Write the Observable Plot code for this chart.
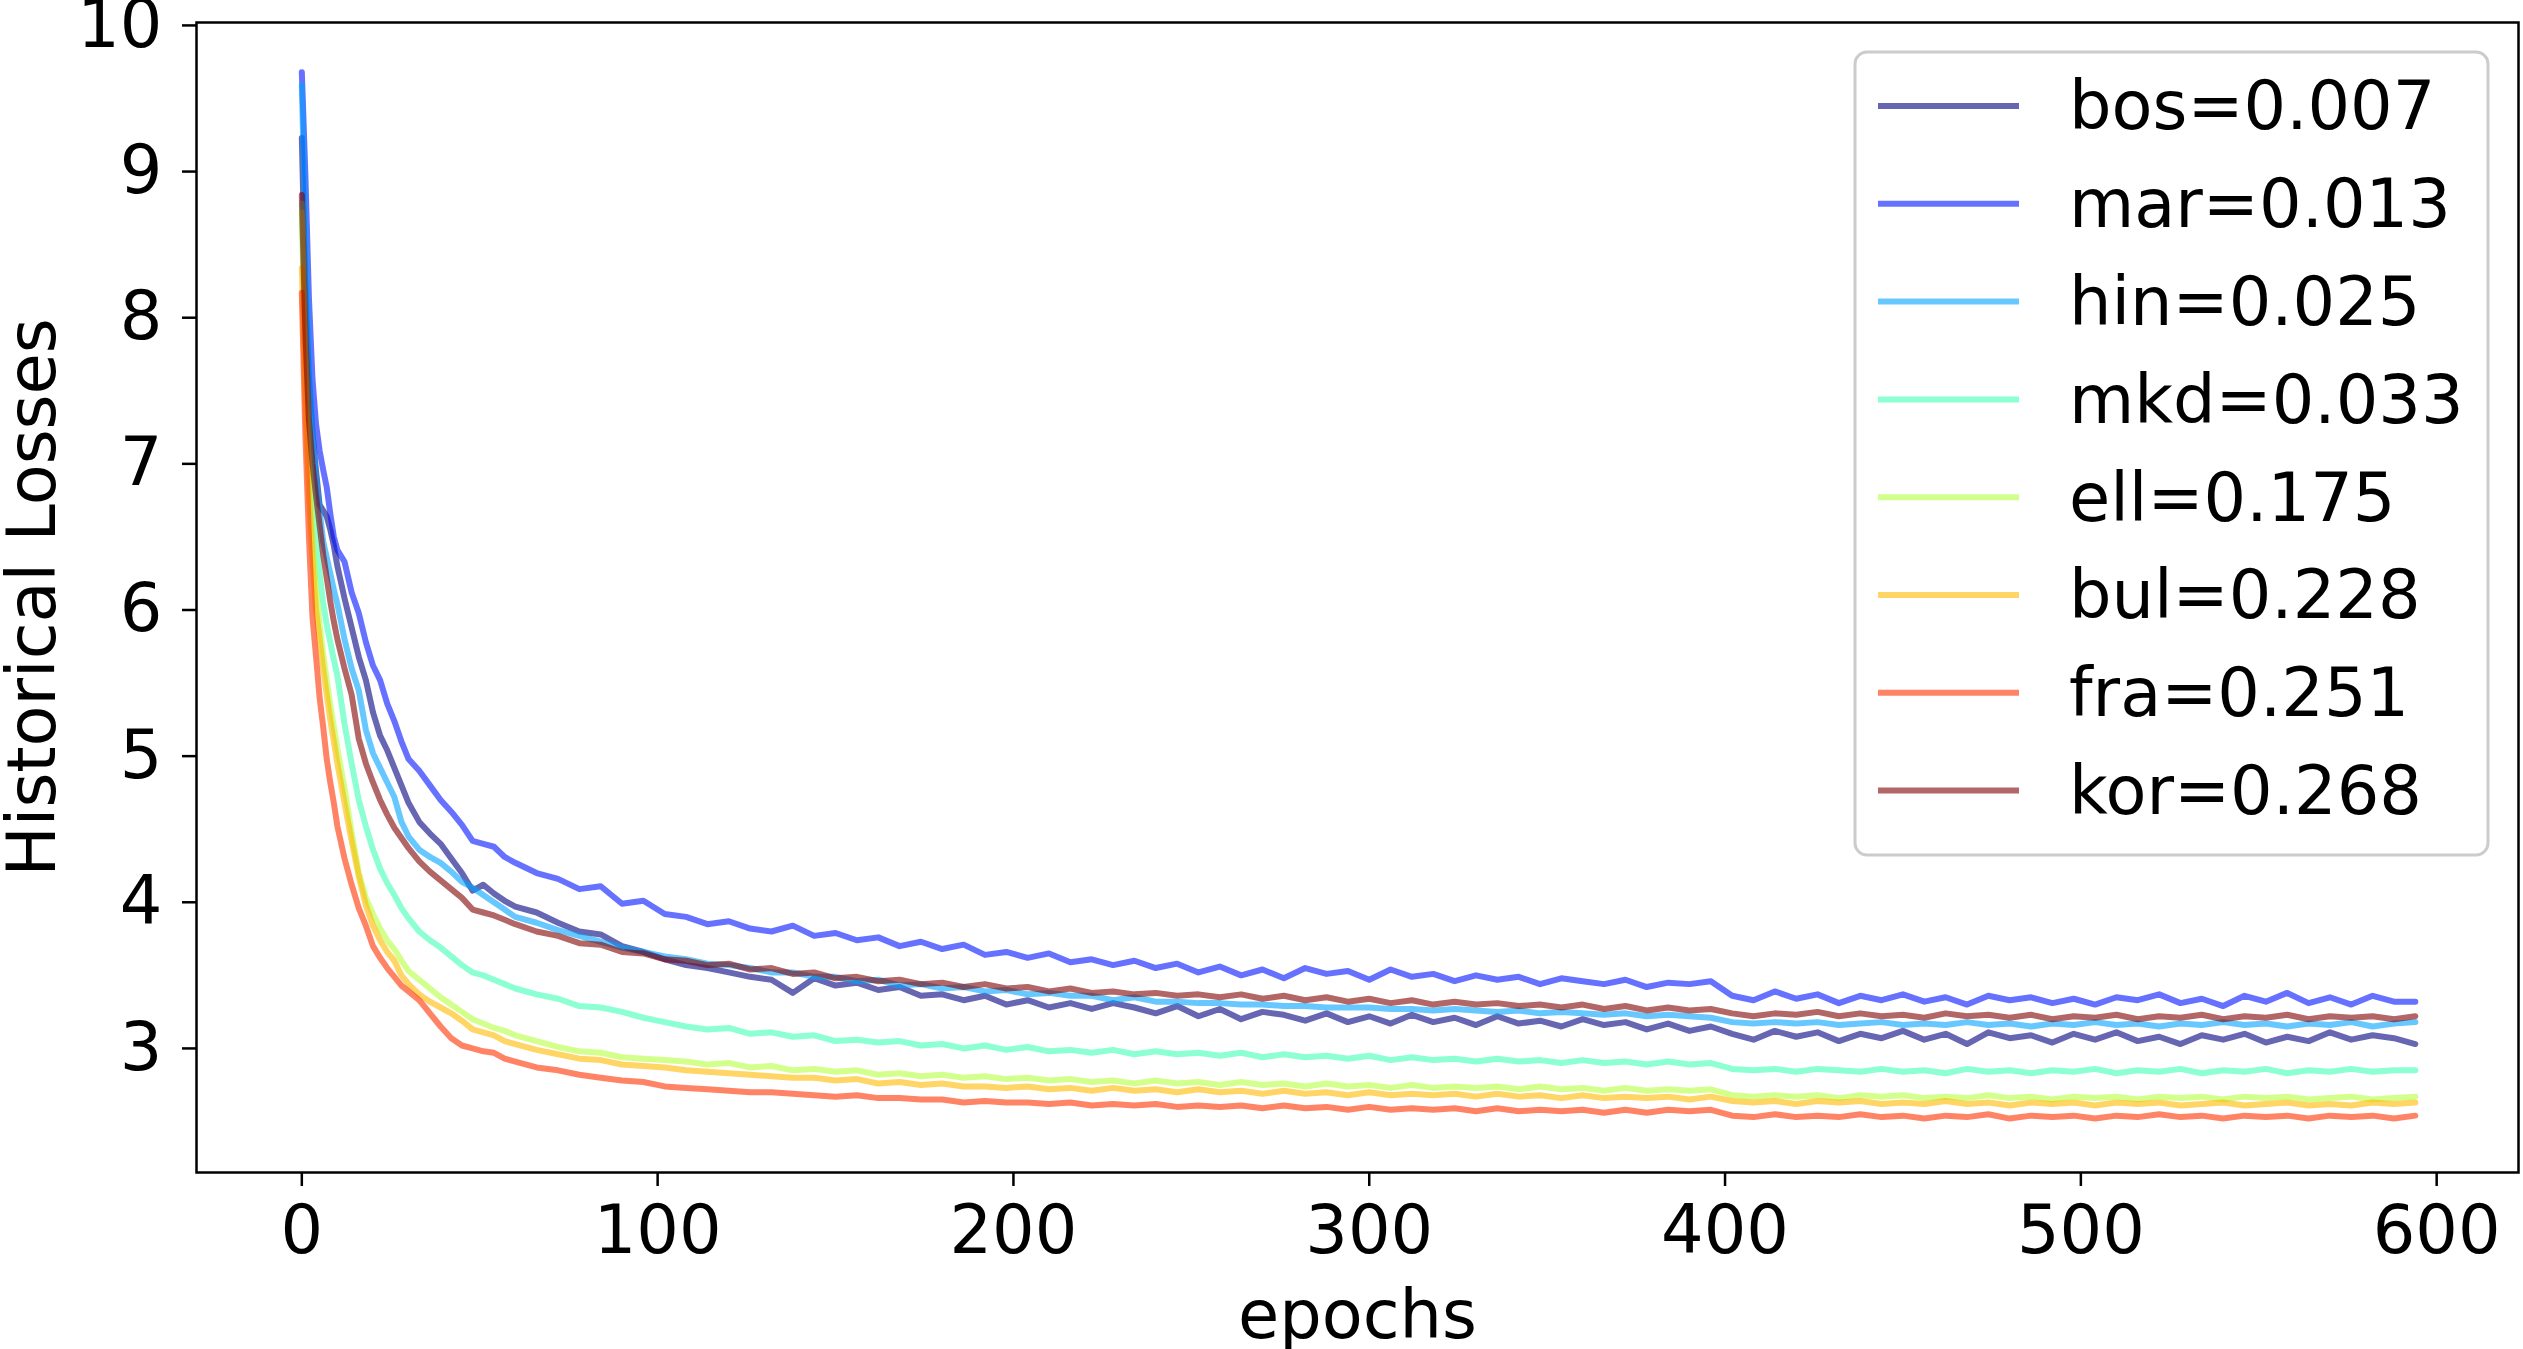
<!DOCTYPE html>
<html>
<head>
<meta charset="utf-8">
<script src="https://cdn.jsdelivr.net/npm/d3@7"></script>
<script src="https://cdn.jsdelivr.net/npm/@observablehq/plot@0.6"></script>
<style>
  html, body { margin: 0; padding: 0; background: #ffffff; }
  #chart { width: 2523px; height: 1349px; }
</style>
</head>
<body>
<div id="chart"></div>
<script>
// Training epochs at which the loss was recorded
const epochs = [
  0, 1, 2, 3, 4, 5, 6, 7, 8, 9, 10, 12, 14, 16, 18, 20, 22, 24, 26, 28, 30,
  33, 36, 39, 42, 45, 48, 51, 54, 57, 60,
  66, 72, 78, 84, 90, 96, 102, 108, 114, 120,
  126, 132, 138, 144, 150, 156, 162, 168, 174, 180,
  186, 192, 198, 204, 210, 216, 222, 228, 234, 240,
  246, 252, 258, 264, 270, 276, 282, 288, 294, 300,
  306, 312, 318, 324, 330, 336, 342, 348, 354, 360,
  366, 372, 378, 384, 390, 396, 402, 408, 414, 420,
  426, 432, 438, 444, 450, 456, 462, 468, 474, 480,
  486, 492, 498, 504, 510, 516, 522, 528, 534, 540,
  546, 552, 558, 564, 570, 576, 582, 588, 594
];

// Language codes and their scores shown in the legend
const series = ["bos", "mar", "hin", "mkd", "ell", "bul", "fra", "kor"];
const scores = [0.007, 0.013, 0.025, 0.033, 0.175, 0.228, 0.251, 0.268];

// Historical loss per language
const bos = [
  9.23, 8.20, 7.60, 7.20, 6.95, 6.72, 6.68, 6.64, 6.55, 6.44, 6.30, 6.08, 5.88, 5.68, 5.52, 5.30, 5.14, 5.04, 4.92, 4.80, 4.68,
  4.55, 4.47, 4.40, 4.30, 4.20, 4.08, 4.12, 4.06, 4.01, 3.97,
  3.93, 3.86, 3.80, 3.78, 3.70, 3.66, 3.61, 3.57, 3.55, 3.52,
  3.49, 3.47, 3.38, 3.48, 3.43, 3.45, 3.40, 3.42, 3.36, 3.37,
  3.33, 3.36, 3.30, 3.33, 3.28, 3.31, 3.27, 3.31, 3.28, 3.24,
  3.29, 3.22, 3.27, 3.20, 3.25, 3.23, 3.19, 3.24, 3.18, 3.22,
  3.17, 3.23, 3.18, 3.21, 3.16, 3.22, 3.17, 3.19, 3.15, 3.20,
  3.16, 3.18, 3.13, 3.17, 3.12, 3.15, 3.10, 3.06, 3.12, 3.08,
  3.11, 3.05, 3.10, 3.07, 3.12, 3.06, 3.10, 3.03, 3.11, 3.07,
  3.09, 3.04, 3.10, 3.06, 3.11, 3.05, 3.08, 3.03, 3.09, 3.06,
  3.10, 3.04, 3.08, 3.05, 3.11, 3.06, 3.09, 3.07, 3.03
];
const mar = [
  9.68, 8.98, 8.13, 7.58, 7.27, 7.09, 6.96, 6.84, 6.66, 6.50, 6.41, 6.33, 6.12, 5.98, 5.78, 5.62, 5.52, 5.36, 5.24, 5.10, 4.98,
  4.90, 4.80, 4.70, 4.62, 4.53, 4.42, 4.40, 4.38, 4.31, 4.27,
  4.20, 4.16, 4.09, 4.11, 3.99, 4.01, 3.92, 3.90, 3.85, 3.87,
  3.82, 3.80, 3.84, 3.77, 3.79, 3.74, 3.76, 3.70, 3.73, 3.68,
  3.71, 3.64, 3.66, 3.62, 3.65, 3.59, 3.61, 3.57, 3.60, 3.55,
  3.58, 3.52, 3.56, 3.50, 3.54, 3.48, 3.55, 3.51, 3.53, 3.47,
  3.54, 3.49, 3.51, 3.46, 3.50, 3.47, 3.49, 3.44, 3.48, 3.46,
  3.44, 3.47, 3.42, 3.45, 3.44, 3.46, 3.36, 3.33, 3.39, 3.34,
  3.37, 3.31, 3.36, 3.33, 3.37, 3.32, 3.35, 3.30, 3.36, 3.33,
  3.35, 3.31, 3.34, 3.30, 3.35, 3.33, 3.37, 3.31, 3.34, 3.29,
  3.36, 3.32, 3.38, 3.31, 3.35, 3.30, 3.36, 3.32, 3.32
];
const hin = [
  9.59, 8.60, 7.70, 7.20, 6.90, 6.68, 6.47, 6.36, 6.25, 6.14, 6.04, 5.80, 5.60, 5.45, 5.18, 5.02, 4.92, 4.82, 4.72, 4.55, 4.45,
  4.36, 4.31, 4.27, 4.21, 4.14, 4.10, 4.05, 4.00, 3.95, 3.90,
  3.86, 3.81, 3.77, 3.73, 3.69, 3.66, 3.63, 3.61, 3.58, 3.57,
  3.55, 3.52, 3.52, 3.49, 3.49, 3.46, 3.47, 3.43, 3.44, 3.41,
  3.42, 3.39, 3.40, 3.37, 3.38, 3.36, 3.36, 3.33, 3.35, 3.32,
  3.32, 3.31, 3.31, 3.30, 3.30, 3.29, 3.29, 3.28, 3.28, 3.28,
  3.27, 3.27, 3.26, 3.27, 3.26, 3.25, 3.26, 3.24, 3.25, 3.24,
  3.23, 3.24, 3.22, 3.23, 3.22, 3.21, 3.18, 3.17, 3.18, 3.17,
  3.18, 3.16, 3.17, 3.18, 3.16, 3.17, 3.16, 3.18, 3.16, 3.17,
  3.15, 3.17, 3.16, 3.18, 3.16, 3.17, 3.15, 3.17, 3.16, 3.18,
  3.16, 3.17, 3.15, 3.17, 3.16, 3.18, 3.15, 3.17, 3.18
];
const mkd = [
  8.78, 7.80, 7.20, 6.80, 6.50, 6.25, 6.05, 5.90, 5.78, 5.66, 5.55, 5.22, 4.95, 4.70, 4.52, 4.36, 4.23, 4.13, 4.05, 3.96, 3.89,
  3.80, 3.74, 3.69, 3.63, 3.57, 3.52, 3.50, 3.47, 3.44, 3.41,
  3.37, 3.34, 3.29, 3.28, 3.25, 3.21, 3.18, 3.15, 3.13, 3.14,
  3.10, 3.11, 3.08, 3.09, 3.05, 3.06, 3.04, 3.05, 3.02, 3.03,
  3.00, 3.02, 2.99, 3.01, 2.98, 2.99, 2.97, 2.99, 2.96, 2.98,
  2.96, 2.97, 2.95, 2.97, 2.94, 2.96, 2.94, 2.95, 2.93, 2.95,
  2.92, 2.94, 2.92, 2.93, 2.91, 2.93, 2.91, 2.92, 2.90, 2.92,
  2.90, 2.91, 2.89, 2.91, 2.89, 2.90, 2.86, 2.85, 2.86, 2.84,
  2.86, 2.85, 2.84, 2.86, 2.84, 2.85, 2.83, 2.86, 2.84, 2.85,
  2.83, 2.85, 2.84, 2.86, 2.83, 2.85, 2.84, 2.86, 2.83, 2.85,
  2.84, 2.86, 2.83, 2.85, 2.84, 2.86, 2.84, 2.85, 2.85
];
const ell = [
  8.72, 7.60, 7.00, 6.50, 6.15, 5.90, 5.70, 5.52, 5.35, 5.20, 5.05, 4.78, 4.48, 4.20, 4.03, 3.92, 3.82, 3.74, 3.68, 3.60, 3.53,
  3.47, 3.41, 3.35, 3.30, 3.25, 3.20, 3.17, 3.14, 3.12, 3.09,
  3.05, 3.01, 2.98, 2.97, 2.94, 2.93, 2.92, 2.91, 2.89, 2.90,
  2.87, 2.88, 2.85, 2.86, 2.84, 2.85, 2.82, 2.83, 2.81, 2.82,
  2.80, 2.81, 2.79, 2.80, 2.78, 2.79, 2.77, 2.78, 2.76, 2.78,
  2.76, 2.77, 2.75, 2.77, 2.75, 2.76, 2.74, 2.76, 2.74, 2.75,
  2.73, 2.75, 2.73, 2.74, 2.73, 2.74, 2.72, 2.74, 2.72, 2.73,
  2.71, 2.73, 2.71, 2.72, 2.71, 2.72, 2.68, 2.67, 2.68, 2.67,
  2.68, 2.66, 2.68, 2.67, 2.68, 2.66, 2.67, 2.66, 2.68, 2.66,
  2.67, 2.65, 2.67, 2.66, 2.67, 2.65, 2.67, 2.66, 2.67, 2.65,
  2.67, 2.66, 2.67, 2.65, 2.66, 2.67, 2.65, 2.66, 2.67
];
const bul = [
  8.34, 7.40, 6.80, 6.35, 6.00, 5.80, 5.60, 5.42, 5.25, 5.10, 4.95, 4.68, 4.42, 4.18, 3.98, 3.84, 3.74, 3.66, 3.60, 3.50, 3.44,
  3.37, 3.32, 3.28, 3.24, 3.19, 3.13, 3.11, 3.09, 3.05, 3.03,
  2.99, 2.96, 2.93, 2.92, 2.89, 2.88, 2.87, 2.85, 2.84, 2.83,
  2.82, 2.81, 2.80, 2.80, 2.78, 2.79, 2.76, 2.77, 2.75, 2.76,
  2.74, 2.74, 2.73, 2.74, 2.72, 2.73, 2.71, 2.73, 2.71, 2.72,
  2.70, 2.72, 2.70, 2.71, 2.69, 2.71, 2.69, 2.70, 2.68, 2.70,
  2.68, 2.69, 2.68, 2.69, 2.67, 2.69, 2.67, 2.68, 2.66, 2.68,
  2.66, 2.67, 2.66, 2.67, 2.65, 2.67, 2.64, 2.63, 2.64, 2.62,
  2.64, 2.63, 2.64, 2.62, 2.63, 2.62, 2.64, 2.62, 2.63, 2.61,
  2.63, 2.62, 2.63, 2.61, 2.63, 2.62, 2.63, 2.61, 2.62, 2.63,
  2.61, 2.62, 2.63, 2.61, 2.62, 2.61, 2.63, 2.62, 2.63
];
const fra = [
  8.17, 7.20, 6.50, 5.95, 5.68, 5.40, 5.20, 4.98, 4.82, 4.68, 4.52, 4.30, 4.12, 3.96, 3.84, 3.70, 3.62, 3.55, 3.49, 3.43, 3.39,
  3.33, 3.24, 3.15, 3.07, 3.02, 3.00, 2.98, 2.97, 2.93, 2.91,
  2.87, 2.85, 2.82, 2.80, 2.78, 2.77, 2.74, 2.73, 2.72, 2.71,
  2.70, 2.70, 2.69, 2.68, 2.67, 2.68, 2.66, 2.66, 2.65, 2.65,
  2.63, 2.64, 2.63, 2.63, 2.62, 2.63, 2.61, 2.62, 2.61, 2.62,
  2.60, 2.61, 2.60, 2.61, 2.59, 2.61, 2.59, 2.60, 2.58, 2.60,
  2.58, 2.59, 2.58, 2.59, 2.57, 2.59, 2.57, 2.58, 2.57, 2.58,
  2.56, 2.58, 2.56, 2.58, 2.57, 2.58, 2.54, 2.53, 2.55, 2.53,
  2.54, 2.53, 2.55, 2.53, 2.54, 2.52, 2.54, 2.53, 2.55, 2.52,
  2.54, 2.53, 2.54, 2.52, 2.54, 2.53, 2.55, 2.53, 2.54, 2.52,
  2.54, 2.53, 2.54, 2.52, 2.54, 2.53, 2.54, 2.52, 2.54
];
const kor = [
  8.84, 7.90, 7.30, 7.00, 6.78, 6.58, 6.38, 6.22, 6.06, 5.92, 5.80, 5.60, 5.42, 5.12, 4.95, 4.82, 4.70, 4.60, 4.51, 4.44, 4.37,
  4.28, 4.21, 4.15, 4.09, 4.03, 3.95, 3.93, 3.91, 3.88, 3.85,
  3.80, 3.77, 3.72, 3.71, 3.66, 3.65, 3.61, 3.60, 3.57, 3.58,
  3.54, 3.55, 3.51, 3.52, 3.48, 3.49, 3.46, 3.47, 3.44, 3.45,
  3.42, 3.44, 3.41, 3.42, 3.39, 3.41, 3.38, 3.39, 3.37, 3.38,
  3.36, 3.37, 3.35, 3.37, 3.34, 3.36, 3.33, 3.35, 3.32, 3.34,
  3.31, 3.33, 3.30, 3.32, 3.30, 3.31, 3.29, 3.30, 3.28, 3.30,
  3.27, 3.29, 3.26, 3.28, 3.26, 3.27, 3.24, 3.22, 3.24, 3.23,
  3.25, 3.22, 3.24, 3.22, 3.23, 3.21, 3.24, 3.22, 3.23, 3.21,
  3.23, 3.20, 3.22, 3.21, 3.23, 3.20, 3.22, 3.21, 3.23, 3.20,
  3.22, 3.21, 3.23, 3.20, 3.22, 3.21, 3.22, 3.20, 3.22
];

// Jet colormap samples, one per language
const colors = ["#00007f", "#0012ff", "#00a4ff", "#40ffb6", "#b6ff40", "#ffb900", "#ff3200", "#7f0000"];

const xTicks = [0, 100, 200, 300, 400, 500, 600];
const yTicks = [3, 4, 5, 6, 7, 8, 9, 10];

const lossByLang = {bos, mar, hin, mkd, ell, bul, fra, kor};
const rows = series.flatMap(name =>
  lossByLang[name].map((loss, i) => ({name, epoch: epochs[i], loss}))
);

const FONT = 67;

const chart = Plot.plot({
  width: 2523,
  height: 1349,
  marginLeft: 196,
  marginRight: 5,
  marginTop: 22,
  marginBottom: 177,
  style: {fontFamily: "DejaVu Sans", background: "white", color: "black", overflow: "visible"},
  x: {domain: [-29.6, 623.0]},
  y: {domain: [2.151, 10.02]},
  color: {domain: series, range: colors},
  marks: [
    Plot.line(rows, {
      x: "epoch", y: "loss", z: "name", stroke: "name",
      strokeWidth: 6, strokeOpacity: 0.6, strokeLinejoin: "round"
    }),
    Plot.frame({stroke: "black", strokeWidth: 2.5}),
    Plot.axisX({ticks: xTicks, tickSize: 14, tickPadding: 19, fontSize: FONT, label: null, strokeWidth: 2.5}),
    Plot.axisY({ticks: yTicks, tickSize: 14, tickPadding: 20, fontSize: FONT, label: null, strokeWidth: 2.5}),
    Plot.text(["epochs"], {frameAnchor: "bottom", lineAnchor: "middle", textAnchor: "middle", dy: 144, fontSize: FONT}),
    Plot.text(["Historical Losses"], {
      frameAnchor: "left", lineAnchor: "middle", textAnchor: "middle",
      rotate: -90, dx: -163, fontSize: FONT
    })
  ]
});

// Legend box in the upper right of the axes
const svg = d3.select(chart);
const colorScale = chart.scale("color");
const legend = svg.append("g")
  .attr("font-family", "DejaVu Sans")
  .attr("font-size", FONT)
  .attr("text-anchor", "start");
legend.append("rect")
  .attr("x", 1855).attr("y", 52).attr("width", 633).attr("height", 803)
  .attr("rx", 12).attr("ry", 12)
  .attr("fill", "white").attr("fill-opacity", 0.8)
  .attr("stroke", "#cccccc").attr("stroke-width", 3);
series.forEach((name, i) => {
  const rowY = 106 + i * 97.8;
  const stroke = colorScale && colorScale.apply ? colorScale.apply(name) : colors[i];
  legend.append("line")
    .attr("x1", 1878).attr("x2", 2019).attr("y1", rowY).attr("y2", rowY)
    .attr("stroke", stroke).attr("stroke-opacity", 0.6).attr("stroke-width", 6);
  legend.append("text")
    .attr("x", 2069).attr("y", rowY).attr("dy", "0.35em")
    .attr("text-anchor", "start")
    .attr("fill", "black")
    .text(`${name}=${scores[i].toFixed(3)}`);
});

document.getElementById("chart").appendChild(chart);
</script>
</body>
</html>
